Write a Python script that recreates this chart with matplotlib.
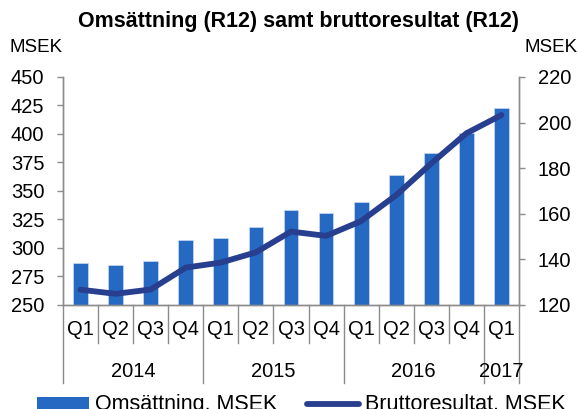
import numpy as np
import matplotlib.pyplot as plt
from matplotlib.patches import Patch
from matplotlib.lines import Line2D
import matplotlib.transforms as mtransforms

plt.rcParams['font.family'] = ['Liberation Sans', 'DejaVu Sans']

quarters = ["Q1", "Q2", "Q3", "Q4", "Q1", "Q2", "Q3", "Q4", "Q1", "Q2", "Q3", "Q4", "Q1"]
years = ["2014", "2015", "2016", "2017"]
year_sizes = [4, 4, 4, 1]
omsattning = [287, 285, 289, 307, 309, 318, 333, 331, 340, 364, 383, 401, 423]
bruttoresultat = [126.7, 124.9, 126.8, 136.4, 138.6, 143.1, 152.2, 150.3, 156.8, 168.2, 182.1, 195.3, 203.3]

bar_color = "#2569C3"
line_color = "#283E8E"
axis_gray = "#8C8C8C"
fs = 14.5

fig = plt.figure(figsize=(5.79, 4.09), dpi=100)
ax = fig.add_axes([0.1088, 0.2543, 0.7876, 0.5575])
ax2 = ax.twinx()

x = np.arange(len(quarters))
ax.bar(x, omsattning, width=0.42, color=bar_color, edgecolor="#c9d9f1", linewidth=0.5, zorder=2)
ax2.plot(x, bruttoresultat, color=line_color, lw=4.2, solid_capstyle="round",
         solid_joinstyle="round", zorder=3)

ax.set_xlim(-0.5, len(quarters) - 0.5)
ax.set_ylim(250, 450)
ax.set_yticks(np.arange(250, 451, 25))
ax2.set_ylim(120, 220)
ax2.set_yticks(np.arange(120, 221, 20))

for a in (ax, ax2):
    a.spines["top"].set_visible(False)
    for s in ("left", "right", "bottom"):
        a.spines[s].set_color(axis_gray)
        a.spines[s].set_linewidth(1.0)
ax.tick_params(axis="y", direction="out", length=4.5, width=1, color=axis_gray,
               labelsize=fs, pad=9)
ax2.tick_params(axis="y", direction="out", length=4.5, width=1, color=axis_gray,
                labelsize=fs, pad=9)

# first level: quarters
ax.set_xticks(x)
ax.set_xticklabels(quarters, fontsize=fs)
ax.tick_params(axis="x", length=0, pad=11)

# separator lines below the axis
trans = mtransforms.blended_transform_factory(ax.transData, ax.transAxes)
bounds = np.arange(len(quarters) + 1) - 0.5
year_bounds = np.concatenate([[0], np.cumsum(year_sizes)]) - 0.5
for b in bounds:
    if b in year_bounds:
        continue
    ax.plot([b, b], [0, -0.167], transform=trans, color=axis_gray, lw=1.0, clip_on=False)
for b in year_bounds:
    ax.plot([b, b], [0, -0.342], transform=trans, color=axis_gray, lw=1.0, clip_on=False)

# second level: years
start = 0
for yr, n in zip(years, year_sizes):
    center = start + (n - 1) / 2
    ax.text(center, -0.29, yr, transform=trans, ha="center", va="center", fontsize=fs)
    start += n

fig.text(0.515, 0.948, "Omsättning (R12) samt bruttoresultat (R12)", ha="center",
         va="center", fontsize=15.5, fontweight="bold")
fig.text(0.062, 0.885, "MSEK", ha="center", va="center", fontsize=13.5)
fig.text(0.952, 0.885, "MSEK", ha="center", va="center", fontsize=13.5)

# legend entries placed separately, like the reference
leg_kw = dict(frameon=False, fontsize=15.5, borderpad=0, borderaxespad=0,
              handlelength=2.4, handleheight=0.5, handletextpad=0.3, loc="center left")
fig.legend([Patch(facecolor=bar_color, edgecolor="none")], ["Omsättning, MSEK"],
           bbox_to_anchor=(0.064, 0.01), **leg_kw)
fig.legend([Line2D([0], [0], color=line_color, lw=4.2, solid_capstyle="round")],
           ["Bruttoresultat, MSEK"], bbox_to_anchor=(0.53, 0.01), **leg_kw)

fig.savefig("out.png", dpi=100)
